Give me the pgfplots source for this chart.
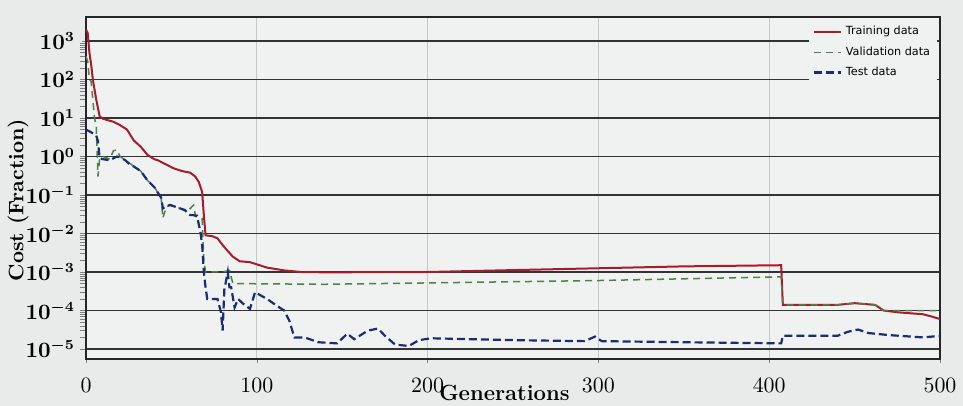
\documentclass[border=0pt]{standalone}
\usepackage{pgfplots}
\pgfplotsset{compat=1.18}
\usepackage{fontspec}
\newfontfamily\legfont{DejaVu Sans}
\definecolor{bg}{RGB}{233,235,235}
\definecolor{trainred}{RGB}{165,28,45}
\definecolor{valgreen}{RGB}{75,130,70}
\definecolor{testblue}{RGB}{25,45,115}

\begin{document}
\begin{tikzpicture}
\fill[bg] (-43pt,-23.5pt) rectangle (438.5pt,179.5pt);
\begin{axis}[
  at={(0,0)}, anchor=south west,
  scale only axis, width=427pt, height=171pt,
  xmin=0, xmax=500,
  ymode=log, ymin=5.5e-6, ymax=4.2e3,
  xtick={0,100,200,300,400,500},
  ytick={1e-5,1e-4,1e-3,1e-2,1e-1,1,10,100,1000},
  minor ytick={},
  tick align=outside, major tick length=2pt,
  xtick pos=left, ytick pos=left,
  axis line style={black!85, line width=0.8pt},
  axis background/.style={fill=bg!70!white},
  xmajorgrids, ymajorgrids,
  every axis x grid/.style={black!22, line width=0.5pt},
  every axis y grid/.style={black!80, line width=0.9pt},
  yticklabel style={font=\boldmath\fontsize{10.5}{12}\selectfont},
  xticklabel style={font=\fontsize{10.5}{12}\selectfont, anchor=center, yshift=-11pt},
  xlabel={\bfseries Generations},
  ylabel={\bfseries Cost (Fraction)},
  every axis x label/.style={at={(axis description cs:0.49,0)}, yshift=-17pt, anchor=center, font=\fontsize{11}{13}\selectfont},
  every axis y label/.style={at={(axis description cs:0,0.465)}, xshift=-34pt, rotate=90, anchor=center, font=\fontsize{10.5}{12}\selectfont},
  legend style={at={(rel axis cs:0.997,0.994)}, anchor=north east, draw=none, fill=bg!70!white,
    font=\legfont\fontsize{5.6}{6.5}\selectfont, row sep=0.3pt, inner sep=1.5pt},
  legend cell align=left,
  legend image code/.code={\draw[#1] (0cm,0cm) -- (0.48cm,0cm);},
]
\addplot[trainred, line width=1pt] coordinates {
(0,2000) (1,1600) (2,500) (3,250) (4,100) (6,30) (8,11) (10,9.5) (16,8) (20,6.5)
(24,5) (28,2.6) (32,1.8) (36,1.1) (40,0.85) (42,0.8) (46,0.65) (51,0.5) (56,0.42)
(61,0.38) (64,0.3) (66,0.22) (68,0.12) (69,0.03) (70,0.009) (74,0.0085) (77,0.0075)
(80,0.005) (83,0.0035) (86,0.0025) (90,0.0019) (96,0.0018) (106,0.0013) (116,0.0011)
(126,0.001) (140,0.00098) (200,0.001) (250,0.00112) (300,0.00125) (350,0.0014)
(407,0.0015) (408,0.00014) (440,0.00014) (450,0.000155) (462,0.00014) (467,0.0001)
(475,0.00009) (490,0.00008) (495,0.00007) (500,0.00006)
};
\addlegendentry{Training data}
\addplot[valgreen, line width=0.75pt, dash pattern=on 3.5pt off 2.5pt] coordinates {
(0,400) (1,300) (2,100) (3,90) (4,30) (5,10) (6,6) (7,0.3) (8,0.9) (10,1.0) (14,0.85)
(16,1.4) (18,1.5) (20,1.0) (23,0.8) (26,0.65) (28,0.55) (32,0.42) (36,0.24) (40,0.16)
(44,0.085) (45,0.025) (47,0.05) (50,0.055) (55,0.045) (60,0.04) (63,0.055) (64,0.03)
(66,0.03) (68,0.025) (69,0.002) (70,0.001) (80,0.001) (84,0.0011) (86,0.0005)
(140,0.00048) (200,0.00052) (300,0.0006) (407,0.00075) (408,0.00014) (440,0.00014)
(450,0.000155) (462,0.00014) (467,0.0001) (500,0.0001)
};
\addlegendentry{Validation data}
\addplot[testblue, line width=1.1pt, dash pattern=on 4pt off 2pt] coordinates {
(0,5) (2,4.5) (4,4) (6,3.5) (7,2.5) (8,0.9) (10,0.85) (14,0.8) (18,1.0) (20,0.95)
(23,0.8) (26,0.6) (28,0.55) (32,0.42) (36,0.24) (40,0.16) (44,0.085) (45,0.045)
(47,0.05) (49,0.055) (52,0.05) (55,0.045) (58,0.04) (61,0.03) (63,0.03) (65,0.028)
(67,0.011) (68,0.005) (69,0.001) (70,0.0004) (71,0.0002) (77,0.0002) (79,0.00009)
(80,0.00003) (81,0.00035) (83,0.001) (84,0.0004) (85,0.0004) (87,0.00012) (89,0.0002)
(92,0.00015) (96,0.00011) (99,0.0003) (102,0.00025) (106,0.0002) (112,0.00013)
(116,0.0001) (119,0.000055) (122,0.00002) (128,0.00002) (136,0.000015) (147,0.000014)
(153,0.000025) (157,0.000018) (165,0.00003) (171,0.000034) (175,0.000022)
(181,0.000013) (189,0.000012) (195,0.000017) (202,0.000019) (250,0.000017)
(292,0.000016) (298,0.000021) (302,0.000016) (350,0.000015) (407,0.000014)
(408,0.000022) (440,0.000022) (446,0.000028) (452,0.000032) (458,0.000026)
(470,0.000023) (490,0.00002) (500,0.000022)
};
\addlegendentry{Test data}
\end{axis}
\pgfresetboundingbox
\path[use as bounding box] (-43pt,-23.5pt) rectangle (438.5pt,179.5pt);
\end{tikzpicture}
\end{document}
